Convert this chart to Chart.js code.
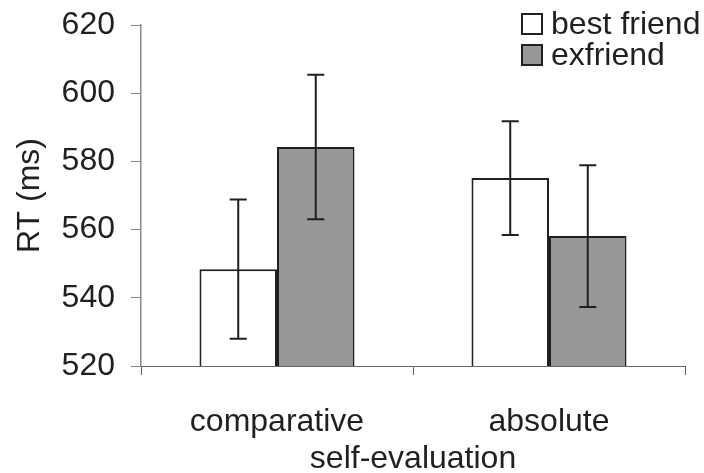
<!DOCTYPE html>
<html>
<head>
<meta charset="utf-8">
<script src="https://cdn.jsdelivr.net/npm/chart.js@4"></script>
<style>
  body { margin: 0; background: #fff; }
  #wrap { position: relative; width: 704px; height: 473px; }
  #legend { position: absolute; left: 521px; top: 8px; font-family: "Liberation Sans", Arial, sans-serif; font-size: 32px; color: #231f20; line-height: 31px; }
  #legend .row { display: flex; align-items: center; white-space: nowrap; }
  #legend .box { width: 18px; height: 18px; border: 2px solid #231f20; margin-right: 8px; }
</style>
</head>
<body>
<div id="wrap">
  <canvas id="barChart" width="704" height="473"></canvas>
  <div id="legend"></div>
</div>
<script>
// dados
const categories = ['comparative', 'absolute'];
const seriesNames = ['best friend', 'exfriend'];
const bestFriend = [548.4, 575.1];
const exFriend = [584.2, 558.1];
const bestFriendErr = [20.4, 16.7];
const exFriendErr = [21.2, 20.8];
const yTicks = [520, 540, 560, 580, 600, 620];

const txt = '#231f20';
const fontFamily = '"Liberation Sans", Arial, sans-serif';

// barras de erro desenhadas com as escalas do gráfico
const errorBars = {
    id: 'errorBars',
    afterDatasetsDraw(chart) {
        const c = chart.ctx;
        const y = chart.scales.y;
        chart.data.datasets.forEach((ds, i) => {
            const meta = chart.getDatasetMeta(i);
            meta.data.forEach((bar, j) => {
                const v = ds.data[j], e = ds.errors[j];
                const top = y.getPixelForValue(v + e);
                const bot = y.getPixelForValue(v - e);
                c.save();
                c.strokeStyle = txt;
                c.lineWidth = 2;
                c.beginPath();
                c.moveTo(bar.x, top); c.lineTo(bar.x, bot);
                c.moveTo(bar.x - 8.5, top); c.lineTo(bar.x + 8.5, top);
                c.moveTo(bar.x - 8.5, bot); c.lineTo(bar.x + 8.5, bot);
                c.stroke();
                c.restore();
            });
        });
    }
};

const ctx = document.getElementById('barChart').getContext('2d');
const barChart = new Chart(ctx, {
    type: 'bar',
    data: {
        labels: categories,
        datasets: [{
            label: seriesNames[0],
            data: bestFriend,
            errors: bestFriendErr,
            backgroundColor: '#ffffff',
            borderColor: txt,
            borderWidth: 2,
            borderSkipped: false
        }, {
            label: seriesNames[1],
            data: exFriend,
            errors: exFriendErr,
            backgroundColor: '#97979a',
            borderColor: txt,
            borderWidth: 2,
            borderSkipped: false
        }]
    },
    options: {
        responsive: false,
        animation: false,
        categoryPercentage: 0.57,
        barPercentage: 1.0,
        layout: { padding: { left: 0, right: 19, top: 25, bottom: 0 } },
        plugins: {
            legend: { display: false },
            tooltip: { enabled: false }
        },
        scales: {
            x: {
                offset: true,
                grid: { offset: true, drawOnChartArea: false, tickLength: 9, color: '#666', lineWidth: 1 },
                border: { color: '#666', width: 1 },
                ticks: { color: txt, font: { family: fontFamily, size: 32 }, padding: 28 },
                title: { display: true, text: 'self-evaluation', color: txt, font: { family: fontFamily, size: 32, lineHeight: 0.85 }, padding: { top: 0, bottom: 0 } },
                afterFit(s) { s.height = 107; s.paddingLeft = 0; s.paddingRight = 0; }
            },
            y: {
                min: yTicks[0],
                max: yTicks[yTicks.length - 1],
                afterBuildTicks(s) { s.ticks = yTicks.map(v => ({ value: v })); },
                grid: { drawOnChartArea: false, tickLength: 10, color: '#888', lineWidth: 1 },
                border: { color: '#888', width: 1.5 },
                ticks: { color: txt, font: { family: fontFamily, size: 32 }, padding: 16 },
                title: { display: true, text: 'RT (ms)', color: txt, font: { family: fontFamily, size: 32, lineHeight: 1.0 }, padding: { top: 14, bottom: 0 } },
                afterFit(s) { s.width = 141; s.paddingTop = 0; s.paddingBottom = 0; }
            }
        }
    },
    plugins: [errorBars]
});

// legenda em HTML sobre a área do gráfico
const legend = document.getElementById('legend');
barChart.data.datasets.forEach(ds => {
    const row = document.createElement('div');
    row.className = 'row';
    const box = document.createElement('span');
    box.className = 'box';
    box.style.background = ds.backgroundColor;
    row.appendChild(box);
    row.appendChild(document.createTextNode(ds.label));
    legend.appendChild(row);
});
</script>
</body>
</html>
